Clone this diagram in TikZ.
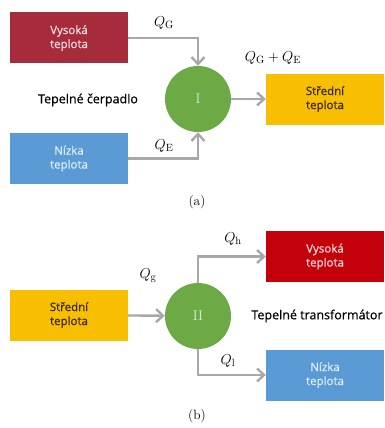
\documentclass[tikz,border=0pt]{standalone}
\usepackage{fontspec}
\setsansfont{Open Sans}[FakeBold=0.6]
\usetikzlibrary{arrows.meta}

\definecolor{hotred}{HTML}{A62B3B}
\definecolor{hotred2}{HTML}{C4000B}
\definecolor{midyel}{HTML}{F8BE00}
\definecolor{coldblue}{HTML}{5B9BD5}
\definecolor{pumpgreen}{HTML}{6DAA45}
\definecolor{arrowgray}{HTML}{A8A8A8}

\begin{document}
\begin{tikzpicture}[x=1pt,y=-1pt]
        \useasboundingbox (0,0) rectangle (384,428);

        % boxes
        \begin{scope}[every node/.style={rectangle,minimum width=118pt,minimum height=51pt,
                    align=center,font=\sffamily\fontsize{11.5}{14}\selectfont}]
            \node[fill=hotred,text=white!85!hotred] (hi) at (69,38) {Vysoká\\teplota};
            \node[fill=coldblue,text=white!80!coldblue] (lo) at (69,158.5) {Nízka\\teplota};
            \node[fill=midyel,text=black!70!brown] (mid) at (325,99) {Střední\\teplota};
            \node[fill=midyel,text=black!70!brown] (mid2) at (69,315) {Střední\\teplota};
            \node[fill=hotred2,text=white!85!hotred2] (hi2) at (325,256.5) {Vysoká\\teplota};
            \node[fill=coldblue,text=white!80!coldblue] (lo2) at (325,375) {Nízka\\teplota};
        \end{scope}

        % pumps
        \begin{scope}[every node/.style={circle,fill=pumpgreen,minimum size=66pt,inner sep=0pt,
                    text=white!75!pumpgreen,font=\fontsize{14}{16}\selectfont}]
            \node (pump) at (198,99) {I};
            \node (pump2) at (198,316) {II};
        \end{scope}

        % arrows
        \begin{scope}[>={Straight Barb[length=7pt,width=13pt]},
                    every path/.style={draw=arrowgray,line width=2.4pt}]
            \draw [->] (hi) -| (pump);
            \draw [->] (lo) -| (pump);
            \draw [->] (pump) -- (mid);
            \draw [->] (mid2) -- (pump2);
            \draw [->] (pump2) |- (hi2);
            \draw [->] (pump2) |- (lo2);
        \end{scope}

        % labels
        \begin{scope}[every node/.style={font=\fontsize{15}{17}\selectfont}]
            \node (qg) at (164,23) {$Q_{\mathrm{G}}$};
            \node (qe) at (164,146) {$Q_{\mathrm{E}}$};
            \node (qsum) at (273,58) {$Q_{\mathrm{G}}+Q_{\mathrm{E}}$};
            \node (qh) at (233,239) {$Q_{\mathrm{h}}$};
            \node (qgg) at (148,276) {$Q_{\mathrm{g}}$};
            \node (ql) at (228,361) {$Q_{\mathrm{l}}$};
        \end{scope}
        \node[font=\fontsize{13.5}{16}\selectfont] (capa) at (197,202) {(a)};
        \node[font=\fontsize{13.5}{16}\selectfont] (capb) at (197,416) {(b)};
        \node[font=\sffamily\fontsize{12.5}{15}\selectfont] (name) at (88,100) {Tepelné čerpadlo};
        \node[font=\sffamily\fontsize{12.5}{15}\selectfont] (name2) at (317,316) {Tepelné transformátor};
    \end{tikzpicture}
\end{document}
